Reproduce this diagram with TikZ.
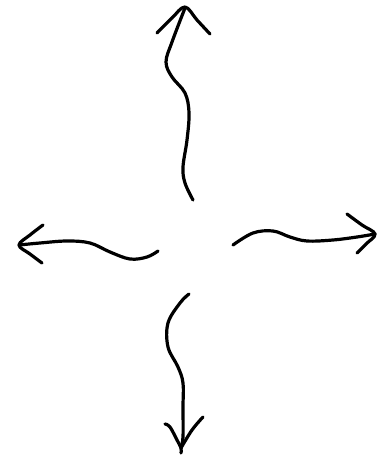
\documentclass[tikz,border=0pt]{standalone}
\begin{document}
\begin{tikzpicture}[x=1pt,y=-1pt,
  stroke/.style={line width=3.2pt,line cap=round,line join=round,black,smooth,tension=0.6}]
\useasboundingbox (0,0) rectangle (376,458);
% up arrow
\draw[stroke] plot coordinates {(193,200) (185,183) (183,167) (187,140) (189,113) (185,93) (172,77) (166,62) (172,42) (185,8)};
\draw[stroke] plot coordinates {(157,33) (172,18) (185,7) (197,20) (210,34)};
% left arrow
\draw[stroke] plot coordinates {(158,251) (147,257) (130,259) (110,252) (90,243) (67,241) (40,243) (19,245)};
\draw[stroke] plot coordinates {(43,225) (30,235) (19,245) (30,254) (42,263)};
% right arrow
\draw[stroke] plot coordinates {(233,245) (253,233) (273,231) (290,237) (307,241) (333,240) (357,237) (375,234)};
\draw[stroke] plot coordinates {(347,214) (362,225) (375,234) (366,244) (357,253)};
% down arrow
\draw[stroke] plot coordinates {(189,294) (180,303) (168,323) (168,347) (178,367) (183,383) (183,407) (183,437) (181,448)};
\draw[stroke] plot coordinates {(165,424) (170,427) (177,440) (181,448) (181,453)};
\draw[stroke] plot coordinates {(203,417) (192,430) (181,448)};
\end{tikzpicture}
\end{document}
